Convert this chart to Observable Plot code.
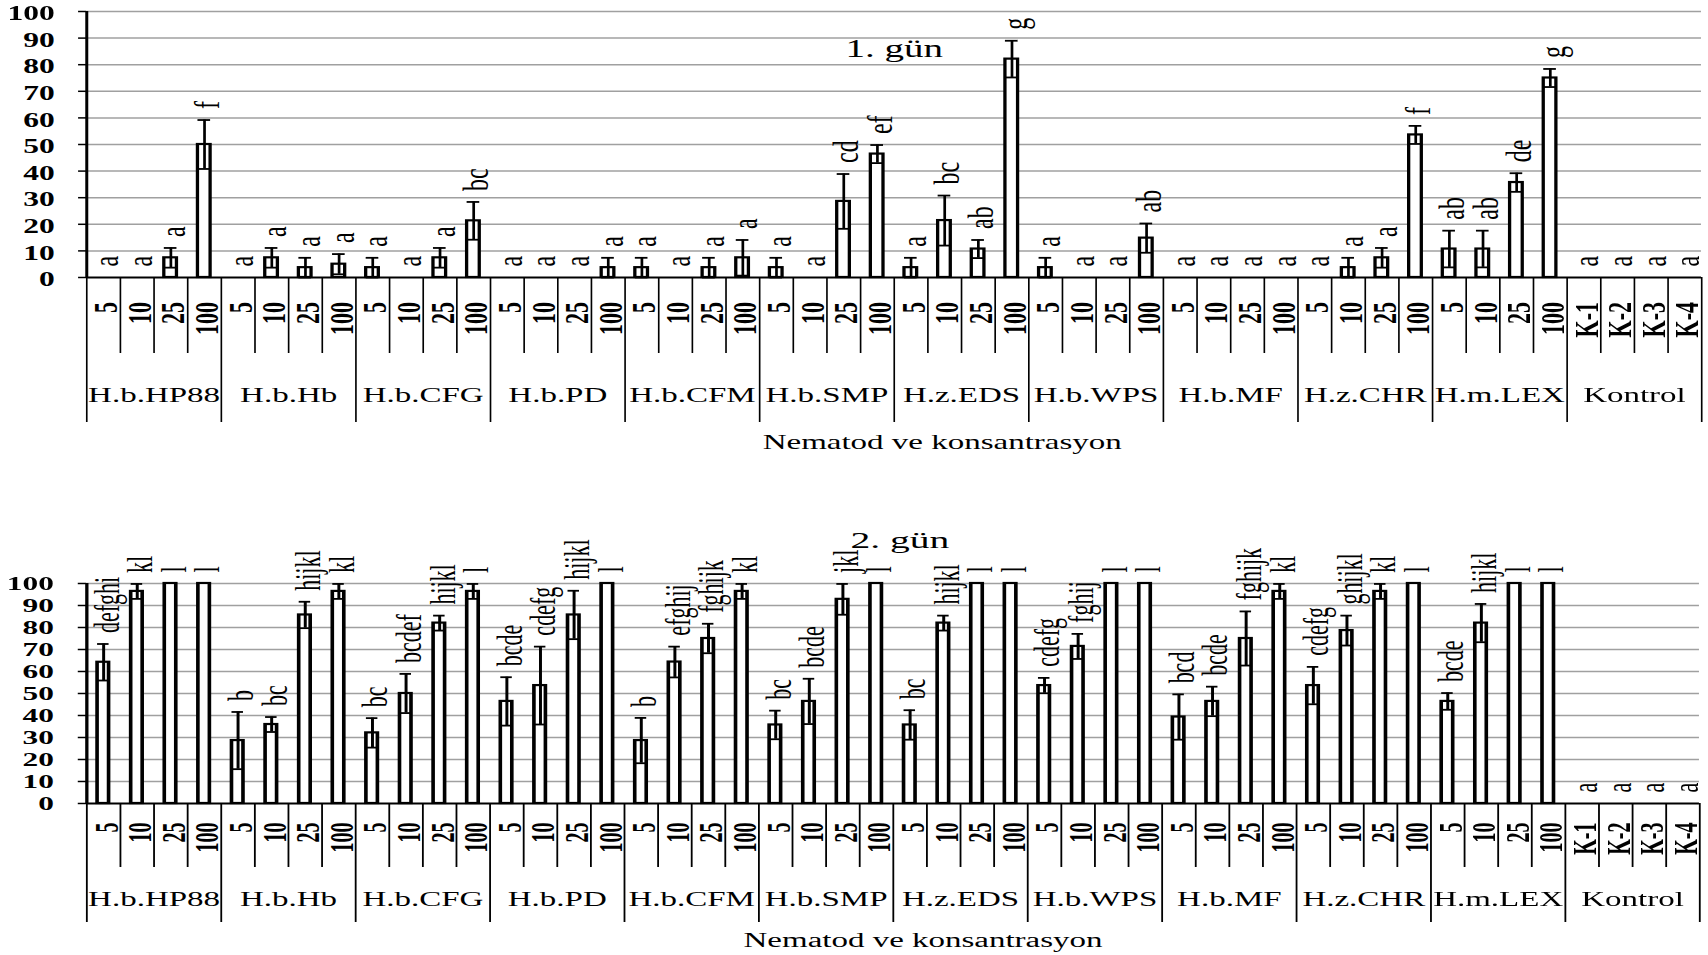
<!DOCTYPE html>
<html>
<head>
<meta charset="utf-8">
<script src="https://cdn.jsdelivr.net/npm/d3@7"></script>
<script src="https://cdn.jsdelivr.net/npm/@observablehq/plot@0.6"></script>
<style>
  html, body { margin: 0; padding: 0; background: white; }
  body { width: 1708px; height: 955px; position: relative; overflow: hidden; }
  .panel { position: absolute; left: 0; transform-origin: 0 0; }
</style>
</head>
<body>
<div id="p1" class="panel"></div>
<div id="p2" class="panel"></div>
<script>
// ---------- data ----------
const groups = ["H.b.HP88", "H.b.Hb", "H.b.CFG", "H.b.PD", "H.b.CFM", "H.b.SMP",
                "H.z.EDS", "H.b.WPS", "H.b.MF", "H.z.CHR", "H.m.LEX", "Kontrol"];
const concentrations = ["5", "10", "25", "100"];
const controlLabels = ["K-1", "K-2", "K-3", "K-4"];
const yTicks = [0, 10, 20, 30, 40, 50, 60, 70, 80, 90, 100];
const axisTitle = "Nematod ve konsantrasyon";
const day1Title = "1. gün";
const day2Title = "2. gün";

const day1Values = [
  0, 0, 7.4, 50,
  0, 7.4, 3.7, 5,
  3.7, 0, 7.4, 21.3,
  0, 0, 0, 3.7,
  3.7, 0, 3.7, 7.4,
  3.7, 0, 28.6, 46.4,
  3.7, 21.4, 10.7, 82.1,
  3.7, 0, 0, 14.8,
  0, 0, 0, 0,
  0, 3.7, 7.4, 53.6,
  10.7, 10.7, 35.7, 75,
  0, 0, 0, 0
];
const day1Errors = [
  0, 0, 3.7, 9.2,
  0, 3.7, 3.7, 3.8,
  3.7, 0, 3.7, 7.1,
  0, 0, 0, 3.7,
  3.7, 0, 3.7, 6.7,
  3.7, 0, 10.3, 3.4,
  3.7, 9.4, 3.4, 6.9,
  3.7, 0, 0, 5.5,
  0, 0, 0, 0,
  0, 3.7, 3.7, 3.4,
  6.9, 6.9, 3.5, 3.4,
  0, 0, 0, 0
];
const day1Letters = [
  "a", "a", "a", "f",
  "a", "a", "a", "a",
  "a", "a", "a", "bc",
  "a", "a", "a", "a",
  "a", "a", "a", "a",
  "a", "a", "cd", "ef",
  "a", "bc", "ab", "g",
  "a", "a", "a", "ab",
  "a", "a", "a", "a",
  "a", "a", "a", "f",
  "ab", "ab", "de", "g",
  "a", "a", "a", "a"
];

const day2Values = [
  64.2, 96.4, 100, 100,
  28.6, 35.9, 85.7, 96.4,
  32.1, 50, 82, 96.4,
  46.4, 53.6, 85.7, 100,
  28.6, 64.3, 75, 96.4,
  35.7, 46.4, 92.8, 100,
  35.7, 82, 100, 100,
  53.6, 71.4, 100, 100,
  39.3, 46.4, 75, 96.4,
  53.6, 78.6, 96.4, 100,
  46.4, 82, 100, 100,
  0, 0, 0, 0
];
const day2Errors = [
  8.3, 3.4, 0, 0,
  13, 3.4, 6, 3.4,
  6.7, 8.9, 3.4, 3.4,
  11, 17.7, 11, 0,
  10.3, 7, 6.7, 3.4,
  6.5, 10.3, 7, 0,
  6.7, 3.4, 0, 0,
  3.5, 5.7, 0, 0,
  10.3, 6.7, 12.3, 3.4,
  8.5, 6.8, 3.4, 0,
  3.8, 8.7, 0, 0,
  0, 0, 0, 0
];
const day2Letters = [
  "defghi", "kl", "l", "l",
  "b", "bc", "hijkl", "kl",
  "bc", "bcdef", "hijkl", "l",
  "bcde", "cdefg", "hijkl", "l",
  "b", "efghij", "fghijk", "kl",
  "bc", "bcde", "jkl", "l",
  "bc", "hijkl", "l", "l",
  "cdefg", "fghij", "l", "l",
  "bcd", "bcde", "fghijk", "kl",
  "cdefg", "ghijkl", "kl", "l",
  "bcde", "hijkl", "l", "l",
  "a", "a", "a", "a"
];

// ---------- drawing ----------
function makePanel(cfg) {
  const n = groups.length * 4;
  const rows = d3.range(n).map(i => ({
    i,
    value: cfg.values[i],
    err: cfg.errors[i],
    letter: cfg.letters[i],
    tick: Math.floor(i / 4) === groups.length - 1 ? controlLabels[i % 4] : concentrations[i % 4]
  }));
  const W = 1708 / cfg.S;
  const innerBottom = cfg.marginTop + cfg.innerH;
  const withErr = rows.filter(d => d.err > 0);
  const ink = "black";
  return Plot.plot({
    width: W,
    height: cfg.height,
    marginTop: cfg.marginTop,
    marginBottom: cfg.height - innerBottom,
    marginLeft: cfg.left / cfg.S,
    marginRight: (1708 - cfg.right) / cfg.S,
    x: {type: "linear", domain: [0, n], axis: null},
    y: {type: "linear", domain: [0, 100], axis: null},
    style: {fontFamily: "'Liberation Serif', 'Times New Roman', serif", color: ink, background: "white", overflow: "visible"},
    marks: [
      // grid
      Plot.ruleY(yTicks.filter(t => t > 0), {x1: 0, x2: n, stroke: "#a0a0a0", strokeWidth: 1.5}),
      // bars
      Plot.rect(rows.filter(d => d.value > 0), {
        x1: "i", x2: d => d.i + 1, y1: 0, y2: "value",
        fill: "white", stroke: ink, strokeWidth: 2.2,
        insetLeft: cfg.inset, insetRight: cfg.inset
      }),
      // error bars
      Plot.ruleX(withErr, {x: d => d.i + 0.5, y1: d => d.value - d.err, y2: d => d.value + d.err, stroke: ink, strokeWidth: 1.8}),
      Plot.ruleY(withErr, {x1: "i", x2: d => d.i + 1, y: d => d.value + d.err, stroke: ink, strokeWidth: 1.8, insetLeft: cfg.inset, insetRight: cfg.inset}),
      Plot.ruleY(withErr, {x1: "i", x2: d => d.i + 1, y: d => d.value - d.err, stroke: ink, strokeWidth: 1.8, insetLeft: cfg.inset, insetRight: cfg.inset}),
      // significance letters
      Plot.text(rows, {
        x: d => d.i + 0.5, y: d => d.value + d.err, text: "letter",
        rotate: -90, textAnchor: "start", dy: -11, dx: 2, fontSize: cfg.letterSize, fill: ink
      }),
      // axes lines
      Plot.ruleY([0], {x1: 0, x2: n, stroke: ink, strokeWidth: 2}),
      Plot.ruleX([0], {y1: 0, y2: 100, stroke: ink, strokeWidth: 2}),
      // y ticks + labels
      Plot.ruleY(yTicks, {x1: 0, x2: 0, insetLeft: -cfg.tickLen, stroke: ink, strokeWidth: 1.5}),
      Plot.text(yTicks, {
        x: 0, y: d => d, text: d => String(d), textAnchor: "end",
        dx: -cfg.yLabelGap, dy: cfg.yLabelDy, fontSize: cfg.ySize, fontWeight: "bold", fill: ink
      }),
      // category dividers under the axis
      Plot.ruleX(d3.range(1, n).filter(k => k % 4 !== 0), {x: d => d, y1: 0, y2: 0, insetBottom: -cfg.tickLine, stroke: ink, strokeWidth: 1.1}),
      Plot.ruleX(d3.range(0, n + 1, 4), {x: d => d, y1: 0, y2: 0, insetBottom: -cfg.groupLine, stroke: ink, strokeWidth: 1.1}),
      // concentration labels
      Plot.text(rows, {
        x: d => d.i + 0.5, y: 0, text: "tick", rotate: -90, textAnchor: "end",
        dy: cfg.tickDy, dx: 2, fontSize: cfg.tickSize, fontWeight: "bold", fill: ink
      }),
      // group labels
      Plot.text(groups, {x: (d, k) => 4 * k + 2, y: 0, text: d => d, dy: cfg.groupDy, fontSize: cfg.groupSize, fill: ink}),
      // axis title
      Plot.text([axisTitle], {frameAnchor: "bottom", text: d => d, dy: cfg.axisTitleDy, dx: cfg.axisTitleDx, fontSize: cfg.axisTitleSize, fill: ink}),
      // panel title
      Plot.text([cfg.title], {frameAnchor: "top", text: d => d, dy: cfg.titleDy, dx: cfg.titleDx, fontSize: cfg.titleSize, fill: ink})
    ]
  });
}

function place(id, cfg) {
  const div = document.getElementById(id);
  div.style.top = cfg.top + "px";
  div.style.width = (1708 / cfg.S) + "px";
  div.style.transform = `scaleX(${cfg.S})`;
  div.appendChild(makePanel(cfg));
}

place("p1", {
  values: day1Values, errors: day1Errors, letters: day1Letters, title: day1Title,
  S: 1.5, left: 86, right: 1701, top: 0, height: 462, marginTop: 11, innerH: 266,
  inset: 7.0, tickLen: 5.3, yLabelGap: 21.3, yLabelDy: 2,
  tickDy: 24.5, tickLine: 76, groupLine: 145, groupDy: 117,
  axisTitleDy: 172, axisTitleDx: 32, titleDy: 27, titleDx: 0,
  ySize: 21, tickSize: 22, groupSize: 22, letterSize: 24, titleSize: 26, axisTitleSize: 22
});

place("p2", {
  values: day2Values, errors: day2Errors, letters: day2Letters, title: day2Title,
  S: 1.65, left: 86, right: 1699, top: 470, height: 485, marginTop: 113, innerH: 220,
  inset: 6.7, tickLen: 5, yLabelGap: 20, yLabelDy: 0,
  tickDy: 19, tickLine: 64, groupLine: 119, groupDy: 96,
  axisTitleDy: 143.5, axisTitleDx: 18, titleDy: -53, titleDx: 4,
  ySize: 19, tickSize: 20, groupSize: 20, letterSize: 22, titleSize: 24, axisTitleSize: 20
});
</script>
</body>
</html>
